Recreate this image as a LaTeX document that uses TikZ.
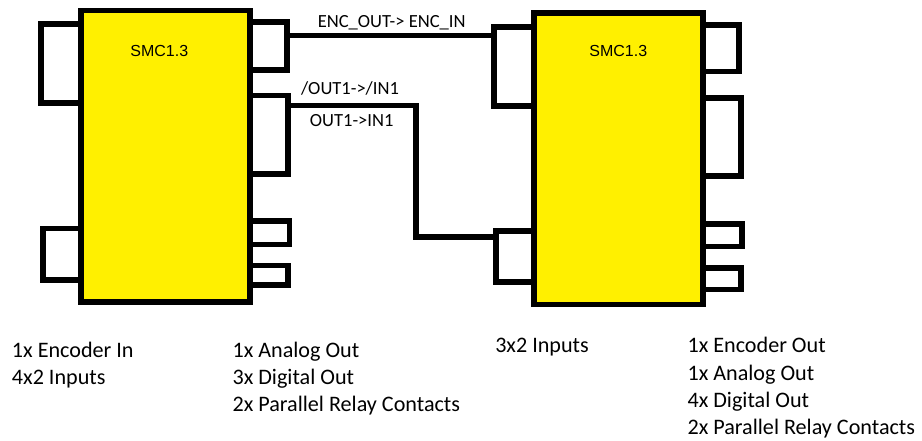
\documentclass[tikz,border=0pt]{standalone}
\usepackage{fontspec}
\setmainfont{Carlito}
\newfontfamily\arialf{Liberation Sans}
\definecolor{smcyellow}{RGB}{255,240,0}
\tikzset{
  lw/.style={line width=4.2pt},
  port/.style={draw, lw, fill=white, inner sep=0pt, outer sep=0pt},
  module/.style={draw, lw, fill=smcyellow, inner sep=0pt, outer sep=0pt},
  wire/.style={lw, line cap=rect},
  wlabel/.style={inner sep=0pt, font=\fontsize{13.9}{16}\selectfont},
  mlabel/.style={inner sep=0pt, font=\arialf\fontsize{12}{14}\selectfont},
  desc/.style={inner sep=0pt, anchor=base west, align=left, font=\fontsize{16.6}{20.5}\selectfont},
}
\newcommand{\portbox}[5]{% name, x1, y1, x2, y2
  \node[port, minimum width={(#4-#2)*0.75pt}, minimum height={(#5-#3)*0.75pt}] (#1) at ({(#2+#4)/2},{(#3+#5)/2}) {};}
\begin{document}
\begin{tikzpicture}[x=0.75pt, y=-0.75pt]
\useasboundingbox (0,0) rectangle (922,441);
% left module ports
\portbox{ll1}{40.8}{24.3}{81}{103}
\portbox{ll2}{42.8}{228.5}{81}{280}
\portbox{lr1}{250}{22.2}{286.8}{70.2}
\portbox{lr2}{250}{95.5}{288}{173.8}
\portbox{lr3}{250}{221.3}{289.5}{244.7}
\portbox{lr4}{250}{265.5}{288}{285.2}
% right module ports
\portbox{rl1}{494.2}{27.2}{533.7}{105.8}
\portbox{rl2}{495.8}{231.3}{533.7}{282.2}
\portbox{rr1}{702.8}{25}{739.2}{71.7}
\portbox{rr2}{702.8}{97.8}{740.8}{175.8}
\portbox{rr3}{702.8}{223.8}{742.2}{246.7}
\portbox{rr4}{702.8}{268.2}{741.2}{289.5}
% modules
\node[module, minimum width={169*0.75pt}, minimum height={291.7*0.75pt}] (L) at (165.3,156.2) {};
\node[module, minimum width={169.1*0.75pt}, minimum height={291.2*0.75pt}] (R) at (618.25,158.9) {};
\node[mlabel] (Lt) at (159.3,51) {SMC1.3};
\node[mlabel] (Rt) at (618.3,51) {SMC1.3};
% wires
\coordinate (w1) at (0,35.7);
\coordinate (w2a) at (415.8,105.5);
\coordinate (w2b) at (415.8,237.3);
\draw[wire] (lr1.east |- w1) -- (rl1.west |- w1);
\draw[wire, line join=miter] (lr2.east |- w2a) -- (w2a) -- (w2b) -- (rl2.west |- w2b);
\node[wlabel] (t1) at (391.7,23) {ENC\_OUT-> ENC\_IN};
\node[wlabel] (t2) at (350,88) {/OUT1->/IN1};
\node[wlabel] (t3) at (351.7,121) {OUT1->IN1};
% descriptions (anchored at the baseline of the last line)
\node[desc] (d1) at (11.7,385) {1x Encoder In\\4x2 Inputs};
\node[desc] (d2) at (232.3,412) {1x Analog Out\\3x Digital Out\\2x Parallel Relay Contacts};
\node[desc] (d3) at (495,353) {3x2 Inputs};
\node[desc] (d4) at (687.3,435) {1x Encoder Out\\1x Analog Out\\4x Digital Out\\2x Parallel Relay Contacts};
\end{tikzpicture}
\end{document}
